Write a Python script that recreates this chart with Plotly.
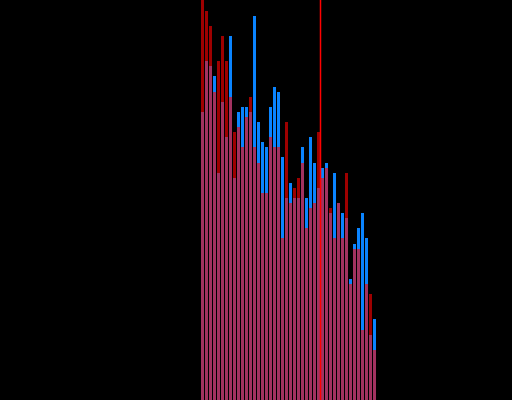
import plotly.graph_objects as go

idx = list(range(44))
blue_vals = [72, 84.75, 83.5, 81, 56.75, 74.5, 65.75, 91, 55.5, 72, 73.25,
             73.25, 72, 96, 69.5, 64.5, 63.25, 73.25, 78.25, 77, 60.75, 50.5,
             54.25, 50.5, 50.5, 63.25, 50.5, 65.75, 59.25, 53, 58, 59.25, 46.75,
             56.75, 49.25, 46.75, 45.5, 30.25, 39, 43, 46.75, 40.5, 16.25, 20.25]
red_vals = [105, 97.25, 93.5, 77, 84.75, 91, 84.75, 75.75, 67, 68.25, 63.25,
            70.75, 75.75, 63.25, 59.25, 51.75, 51.75, 65.75, 63.25, 63.25, 40.5, 69.5,
            49.25, 53, 55.5, 59.25, 43, 48, 49.25, 67, 55.5, 58, 48,
            40.5, 49.25, 40.5, 56.75, 29, 37.75, 37.75, 17.5, 29, 26.5, 12.5]
marker_x = 29.5

fig = go.Figure()
fig.add_trace(go.Bar(x=idx, y=blue_vals, marker=dict(color="rgb(10,132,255)", line=dict(width=0))))
fig.add_trace(go.Bar(x=idx, y=red_vals, marker=dict(color="rgb(255,0,0)", line=dict(width=0)), opacity=0.62))
fig.add_vline(x=marker_x, line=dict(color="rgb(255,0,0)", width=1.5))

fig.update_layout(
    width=512, height=400,
    margin=dict(l=0, r=0, t=0, b=0),
    paper_bgcolor="black", plot_bgcolor="black",
    barmode="overlay", bargap=0.25,
    showlegend=False,
    xaxis=dict(visible=False, range=[-50.625, 77.375]),
    yaxis=dict(visible=False, range=[0, 100]),
)
fig.write_html(
    "out.html",
    config={"displayModeBar": False, "staticPlot": True},
    post_script="document.body.style.margin='0';document.body.style.background='black';document.body.style.overflow='hidden';",
)
